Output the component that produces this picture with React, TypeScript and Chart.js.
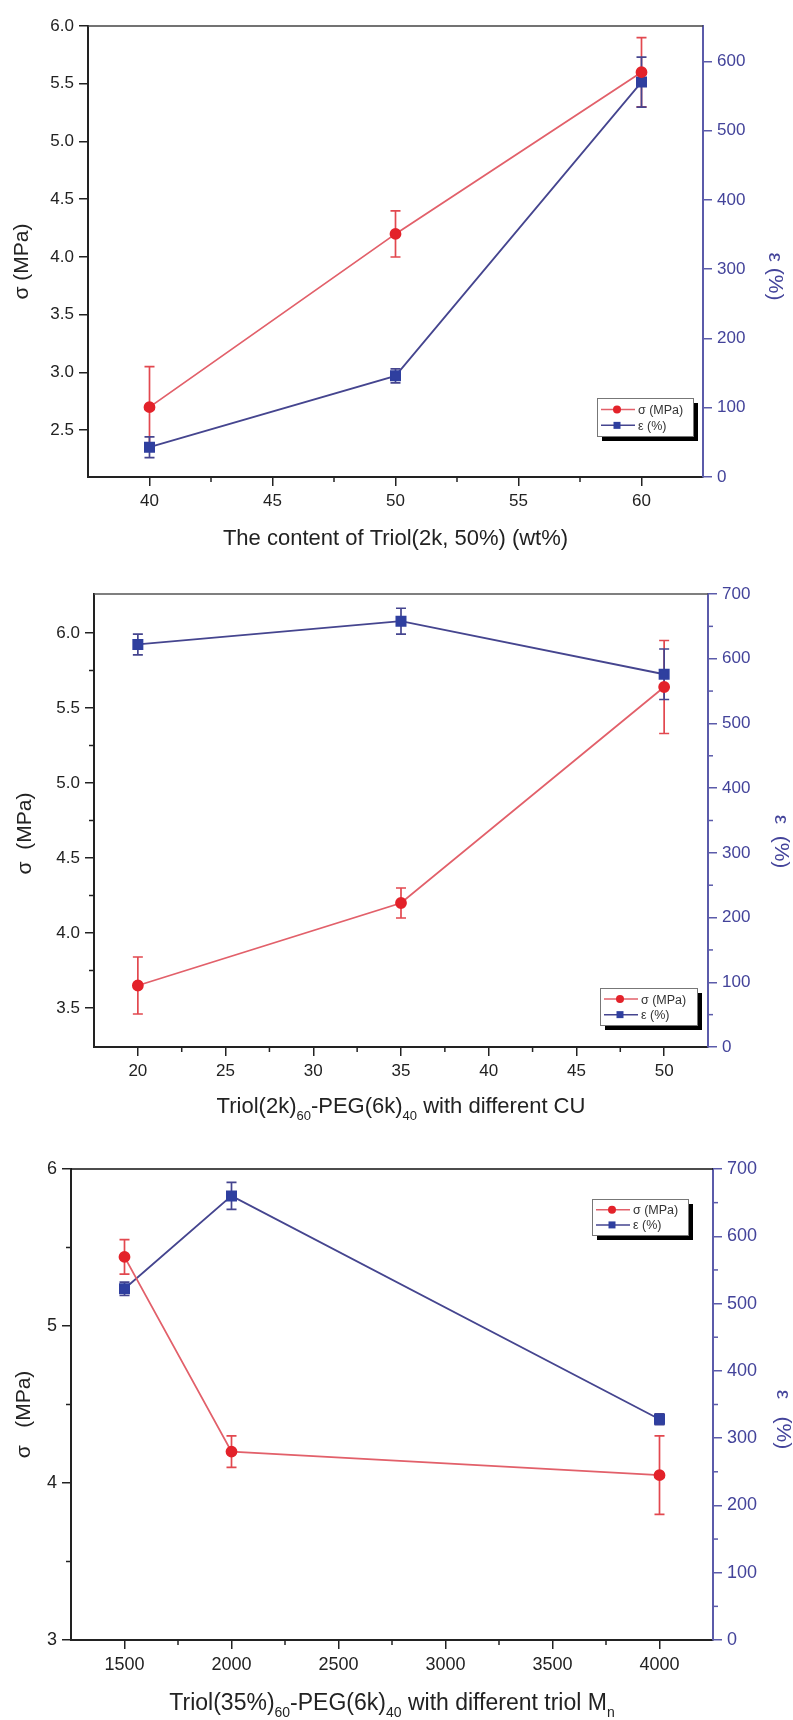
import React, { useEffect, useRef } from "react";
import { Chart, registerables } from "chart.js";

Chart.register(...registerables);

// ---- Panel A: tensile results vs. Triol(2k, 50%) content ----
const contentWt = [40, 50, 60];
const contentStress = [2.7, 4.2, 5.6];
const contentStressErr = [0.35, 0.2, 0.3];
const contentStrain = [43, 146, 570];
const contentStrainErr = [15, 10, 36];
const contentXTicks = [40, 45, 50, 55, 60];
const contentXMinor = [42.5, 47.5, 52.5, 57.5];
const contentStressTicks = [2.5, 3.0, 3.5, 4.0, 4.5, 5.0, 5.5, 6.0];
const contentStrainTicks = [0, 100, 200, 300, 400, 500, 600];

// ---- Panel B: tensile results vs. CU content ----
const cuLevels = [20, 35, 50];
const cuStress = [3.65, 4.2, 5.64];
const cuStressErr = [0.19, 0.1, 0.31];
const cuStrain = [622, 658, 576];
const cuStrainErr = [16, 20, 39];
const cuXTicks = [20, 25, 30, 35, 40, 45, 50];
const cuXMinor = [22.5, 27.5, 32.5, 37.5, 42.5, 47.5];
const cuStressTicks = [3.5, 4.0, 4.5, 5.0, 5.5, 6.0];
const cuStressMinor = [3.75, 4.25, 4.75, 5.25, 5.75];
const cuStrainTicks = [0, 100, 200, 300, 400, 500, 600, 700];
const cuStrainMinor = [50, 150, 250, 350, 450, 550, 650];

// ---- Panel C: tensile results vs. triol molecular weight ----
const triolMn = [1500, 2000, 4000];
const mnStress = [5.44, 4.2, 4.05];
const mnStressErr = [0.11, 0.1, 0.25];
const mnStrain = [522, 660, 328];
const mnStrainErr = [10, 20, 8];
const mnXTicks = [1500, 2000, 2500, 3000, 3500, 4000];
const mnXMinor = [1750, 2250, 2750, 3250, 3750];
const mnStressTicks = [3, 4, 5, 6];
const mnStressMinor = [3.5, 4.5, 5.5];
const mnStrainTicks = [0, 100, 200, 300, 400, 500, 600, 700];
const mnStrainMinor = [50, 150, 250, 350, 450, 550, 650];

const FONT = "'Liberation Sans', Arial, Helvetica, sans-serif";
const RED = "#e3222a";
const RED_LINE = "#e2606a";
const RED_ERR = "#e2484f";
const BLUE = "#2f3f9f";
const BLUE_LINE = "#45458f";
const AXIS_BLUE = "#5b5baa";
const BLUE_TEXT = "#43439a";
const INK = "#222222";

type Seg = { t: string; sub?: boolean };

type AxisSpec = { min: number; max: number; ticks: number[]; minor: number[]; decimals: number };

type PanelSpec = {
  height: number;
  gutters: { top: number; left: number; right: number; bottom: number };
  tickSize: number;
  x: AxisSpec;
  yl: AxisSpec;
  yr: AxisSpec;
  xs: number[];
  stress: number[];
  stressErr: number[];
  strain: number[];
  strainErr: number[];
  xTitle: Seg[];
  xTitleSize: number;
  xTitleDY: number;
  leftTitle: string;
  leftTitleX: number;
  leftTitleDY: number;
  rightTitle: string;
  rightTitleX: number;
  rightTitleDY: number;
  titleSize: number;
  frameColor: string;
  legend: { dx: number; dy: number; fromTop: boolean; w: number; h: number };
};

const panels: PanelSpec[] = [
  {
    height: 560,
    gutters: { top: 26, left: 88, right: 90, bottom: 83 },
    tickSize: 17,
    x: { min: 37.5, max: 62.5, ticks: contentXTicks, minor: contentXMinor, decimals: 0 },
    yl: { min: 2.095, max: 6.0, ticks: contentStressTicks, minor: [], decimals: 1 },
    yr: { min: 0, max: 651, ticks: contentStrainTicks, minor: [], decimals: 0 },
    xs: contentWt,
    stress: contentStress,
    stressErr: contentStressErr,
    strain: contentStrain,
    strainErr: contentStrainErr,
    xTitle: [{ t: "The content of Triol(2k, 50%) (wt%)" }],
    xTitleSize: 22,
    xTitleDY: 60,
    leftTitle: "σ (MPa)",
    leftTitleX: 22,
    leftTitleDY: 10,
    rightTitle: "ε (%)",
    rightTitleX: 775,
    rightTitleDY: 25,
    titleSize: 21,
    frameColor: "#444444",
    legend: { dx: 106, dy: 79, fromTop: false, w: 96, h: 38 },
  },
  {
    height: 570,
    gutters: { top: 34, left: 94, right: 85, bottom: 83 },
    tickSize: 17,
    x: { min: 17.5, max: 52.5, ticks: cuXTicks, minor: cuXMinor, decimals: 0 },
    yl: { min: 3.24, max: 6.26, ticks: cuStressTicks, minor: cuStressMinor, decimals: 1 },
    yr: { min: 0, max: 700, ticks: cuStrainTicks, minor: cuStrainMinor, decimals: 0 },
    xs: cuLevels,
    stress: cuStress,
    stressErr: cuStressErr,
    strain: cuStrain,
    strainErr: cuStrainErr,
    xTitle: [
      { t: "Triol(2k)" },
      { t: "60", sub: true },
      { t: "-PEG(6k)" },
      { t: "40", sub: true },
      { t: " with different CU" },
    ],
    xTitleSize: 22,
    xTitleDY: 58,
    leftTitle: "σ  (MPa)",
    leftTitleX: 25,
    leftTitleDY: 13,
    rightTitle: "ε  (%)",
    rightTitleX: 781,
    rightTitleDY: 21,
    titleSize: 21,
    frameColor: "#555555",
    legend: { dx: 108, dy: 59, fromTop: false, w: 97, h: 37 },
  },
  {
    height: 590,
    gutters: { top: 39, left: 71, right: 80, bottom: 80 },
    tickSize: 18,
    x: { min: 1250, max: 4250, ticks: mnXTicks, minor: mnXMinor, decimals: 0 },
    yl: { min: 3, max: 6, ticks: mnStressTicks, minor: mnStressMinor, decimals: 0 },
    yr: { min: 0, max: 700, ticks: mnStrainTicks, minor: mnStrainMinor, decimals: 0 },
    xs: triolMn,
    stress: mnStress,
    stressErr: mnStressErr,
    strain: mnStrain,
    strainErr: mnStrainErr,
    xTitle: [
      { t: "Triol(35%)" },
      { t: "60", sub: true },
      { t: "-PEG(6k)" },
      { t: "40", sub: true },
      { t: " with different triol M" },
      { t: "n", sub: true },
    ],
    xTitleSize: 23,
    xTitleDY: 62,
    leftTitle: "σ   (MPa)",
    leftTitleX: 24,
    leftTitleDY: 10,
    rightTitle: "ε   (%)",
    rightTitleX: 783,
    rightTitleDY: 15,
    titleSize: 21,
    frameColor: "#111111",
    legend: { dx: 121, dy: 30, fromTop: true, w: 96, h: 36 },
  },
];

// Vertical error bars with caps, drawn under the lines and markers.
const errorBarPlugin = {
  id: "errorBars",
  beforeDatasetsDraw(chart: any) {
    const { ctx } = chart;
    chart.data.datasets.forEach((ds: any) => {
      const xs = chart.scales.x;
      const ys = chart.scales[ds.yAxisID];
      ctx.save();
      ctx.strokeStyle = ds.errorColor;
      ctx.lineWidth = 1.7;
      ds.data.forEach((pt: any, j: number) => {
        const e = ds.errors[j];
        const px = xs.getPixelForValue(pt.x);
        const top = ys.getPixelForValue(pt.y + e);
        const bot = ys.getPixelForValue(pt.y - e);
        ctx.beginPath();
        ctx.moveTo(px, top);
        ctx.lineTo(px, bot);
        ctx.moveTo(px - 5, top);
        ctx.lineTo(px + 5, top);
        ctx.moveTo(px - 5, bot);
        ctx.lineTo(px + 5, bot);
        ctx.stroke();
      });
      ctx.restore();
    });
  },
};

function drawSegs(ctx: CanvasRenderingContext2D, segs: Seg[], cx: number, cy: number, size: number) {
  const subSize = Math.round(size * 0.6);
  const widthOf = (s: Seg) => {
    ctx.font = `${s.sub ? subSize : size}px ${FONT}`;
    return ctx.measureText(s.t).width;
  };
  const total = segs.reduce((acc, s) => acc + widthOf(s), 0);
  let x = cx - total / 2;
  ctx.textAlign = "left";
  ctx.textBaseline = "alphabetic";
  const base = cy + size * 0.36;
  segs.forEach((s) => {
    ctx.font = `${s.sub ? subSize : size}px ${FONT}`;
    ctx.fillText(s.t, x, s.sub ? base + size * 0.3 : base);
    x += ctx.measureText(s.t).width;
  });
}

function drawMarker(ctx: CanvasRenderingContext2D, kind: "circle" | "rect", x: number, y: number, r: number, color: string) {
  ctx.fillStyle = color;
  ctx.beginPath();
  if (kind === "circle") ctx.arc(x, y, r, 0, Math.PI * 2);
  else ctx.rect(x - r, y - r, 2 * r, 2 * r);
  ctx.fill();
}

// Frame line, minor ticks, axis titles and the boxed legend.
function decorPlugin(p: PanelSpec) {
  return {
    id: "decor",
    afterDraw(chart: any) {
      const { ctx, chartArea: a, scales } = chart;
      ctx.save();

      // top frame line
      ctx.strokeStyle = p.frameColor;
      ctx.lineWidth = 1.5;
      ctx.beginPath();
      ctx.moveTo(a.left, a.top);
      ctx.lineTo(a.right, a.top);
      ctx.stroke();

      // minor ticks
      ctx.lineWidth = 1.5;
      ctx.strokeStyle = INK;
      p.x.minor.forEach((v) => {
        const px = scales.x.getPixelForValue(v);
        ctx.beginPath();
        ctx.moveTo(px, a.bottom);
        ctx.lineTo(px, a.bottom + 5);
        ctx.stroke();
      });
      p.yl.minor.forEach((v) => {
        const py = scales.yl.getPixelForValue(v);
        ctx.beginPath();
        ctx.moveTo(a.left - 5, py);
        ctx.lineTo(a.left, py);
        ctx.stroke();
      });
      ctx.strokeStyle = AXIS_BLUE;
      p.yr.minor.forEach((v) => {
        const py = scales.yr.getPixelForValue(v);
        ctx.beginPath();
        ctx.moveTo(a.right, py);
        ctx.lineTo(a.right + 5, py);
        ctx.stroke();
      });

      // axis titles
      const midY = (a.top + a.bottom) / 2;
      ctx.fillStyle = INK;
      drawSegs(ctx, p.xTitle, (a.left + a.right) / 2, a.bottom + p.xTitleDY, p.xTitleSize);

      ctx.font = `${p.titleSize}px ${FONT}`;
      ctx.textAlign = "center";
      ctx.textBaseline = "middle";
      ctx.save();
      ctx.translate(p.leftTitleX, midY + p.leftTitleDY);
      ctx.rotate(-Math.PI / 2);
      ctx.fillText(p.leftTitle, 0, 0);
      ctx.restore();

      ctx.save();
      ctx.fillStyle = BLUE_TEXT;
      ctx.translate(p.rightTitleX, midY + p.rightTitleDY);
      ctx.rotate(Math.PI / 2);
      ctx.fillText(p.rightTitle, 0, 0);
      ctx.restore();

      // legend box with drop shadow
      const L = p.legend;
      const bx = a.right - L.dx;
      const by = L.fromTop ? a.top + L.dy : a.bottom - L.dy;
      ctx.fillStyle = "#000";
      ctx.fillRect(bx + 5, by + 5, L.w, L.h);
      ctx.fillStyle = "#fff";
      ctx.fillRect(bx, by, L.w, L.h);
      ctx.strokeStyle = "#777";
      ctx.lineWidth = 1;
      ctx.strokeRect(bx + 0.5, by + 0.5, L.w, L.h);

      const rows = [
        { label: "σ (MPa)", line: RED_LINE, mark: RED, kind: "circle" as const, r: 4 },
        { label: "ε (%)", line: BLUE_LINE, mark: BLUE, kind: "rect" as const, r: 3.5 },
      ];
      ctx.font = `12.5px ${FONT}`;
      ctx.textAlign = "left";
      ctx.textBaseline = "middle";
      rows.forEach((row, i) => {
        const ry = by + L.h * (i === 0 ? 0.3 : 0.72);
        ctx.strokeStyle = row.line;
        ctx.lineWidth = 1.5;
        ctx.beginPath();
        ctx.moveTo(bx + 4, ry);
        ctx.lineTo(bx + 38, ry);
        ctx.stroke();
        drawMarker(ctx, row.kind, bx + 20, ry, row.r, row.mark);
        ctx.fillStyle = "#333";
        ctx.fillText(row.label, bx + 41, ry + 1);
      });

      ctx.restore();
    },
  };
}

function axisOptions(spec: AxisSpec, position: string, size: number, tickSize: number, color: string, textColor: string) {
  const horizontal = position === "bottom";
  return {
    type: "linear",
    position,
    min: spec.min,
    max: spec.max,
    afterBuildTicks: (scale: any) => {
      scale.ticks = spec.ticks.map((value) => ({ value }));
    },
    afterFit: (scale: any) => {
      if (horizontal) scale.height = size;
      else scale.width = size;
    },
    grid: {
      drawOnChartArea: false,
      drawTicks: true,
      tickLength: 9,
      color,
      lineWidth: 1.5,
    },
    border: { display: true, color, width: 2 },
    ticks: {
      autoSkip: false,
      maxRotation: 0,
      padding: 5,
      color: textColor,
      font: { family: FONT, size: tickSize },
      callback: (v: any) => Number(v).toFixed(spec.decimals),
    },
    title: { display: false },
  };
}

function buildConfig(p: PanelSpec): any {
  return {
    type: "line",
    data: {
      datasets: [
        {
          label: "σ (MPa)",
          data: p.xs.map((x, i) => ({ x, y: p.stress[i] })),
          errors: p.stressErr,
          errorColor: RED_ERR,
          yAxisID: "yl",
          borderColor: RED_LINE,
          backgroundColor: RED,
          pointBackgroundColor: RED,
          pointBorderColor: RED,
          pointStyle: "circle",
          pointRadius: 5,
          borderWidth: 1.8,
          tension: 0,
          clip: false,
        },
        {
          label: "ε (%)",
          data: p.xs.map((x, i) => ({ x, y: p.strain[i] })),
          errors: p.strainErr,
          errorColor: BLUE_LINE,
          yAxisID: "yr",
          borderColor: BLUE_LINE,
          backgroundColor: BLUE,
          pointBackgroundColor: BLUE,
          pointBorderColor: BLUE,
          pointStyle: "rect",
          pointRadius: 6.5,
          borderWidth: 1.8,
          tension: 0,
          clip: false,
        },
      ],
    },
    options: {
      responsive: false,
      animation: false,
      devicePixelRatio: 1,
      events: [],
      layout: { padding: { top: p.gutters.top, left: 0, right: 0, bottom: 0 } },
      plugins: { legend: { display: false }, tooltip: { enabled: false }, title: { display: false } },
      scales: {
        x: axisOptions(p.x, "bottom", p.gutters.bottom, p.tickSize, INK, INK),
        yl: axisOptions(p.yl, "left", p.gutters.left, p.tickSize, INK, INK),
        yr: axisOptions(p.yr, "right", p.gutters.right, p.tickSize, AXIS_BLUE, BLUE_TEXT),
      },
    },
    plugins: [errorBarPlugin, decorPlugin(p)],
  };
}

function PanelChart({ spec }: { spec: PanelSpec }) {
  const ref = useRef<HTMLCanvasElement | null>(null);
  useEffect(() => {
    if (!ref.current) return;
    const chart = new Chart(ref.current, buildConfig(spec));
    return () => chart.destroy();
  }, [spec]);
  return <canvas ref={ref} width={793} height={spec.height} style={{ display: "block" }} />;
}

export default function App() {
  useEffect(() => {
    document.body.style.margin = "0";
  }, []);
  return (
    <div style={{ width: 793, height: 1720, background: "#fff" }}>
      {panels.map((p, i) => (
        <PanelChart key={i} spec={p} />
      ))}
    </div>
  );
}
